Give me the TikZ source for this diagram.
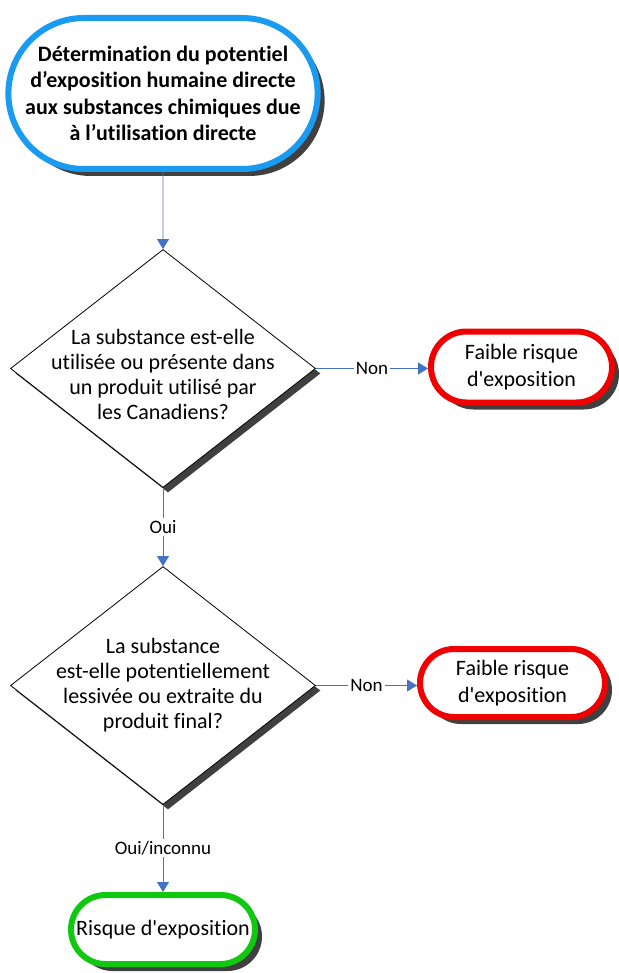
\documentclass[tikz,border=0pt]{standalone}
\usepackage{fontspec}
\setmainfont{Carlito}[Ligatures={TeXOff,NoCommon}]
\usetikzlibrary{shapes.geometric,shapes.misc,shadows,arrows.meta}
\definecolor{arrowblue}{HTML}{4472C4}
\definecolor{termblue}{HTML}{1A9BF2}
\definecolor{termred}{HTML}{F00000}
\definecolor{termgreen}{HTML}{10C810}
\definecolor{shadowgray}{HTML}{404040}
\tikzset{
  shad/.style={drop shadow={shadow xshift=7pt, shadow yshift=-7pt, fill=shadowgray, opacity=1}},
  term/.style={rounded rectangle, draw, line width=6pt, fill=white, align=center,
    inner sep=0pt, font=\fontsize{22}{27}\selectfont, shad},
  decision/.style={diamond, draw, line width=0.8pt, fill=white, inner sep=0pt,
    minimum width=305pt, minimum height=238pt,
    drop shadow={shadow xshift=5pt, shadow yshift=-5pt, fill=shadowgray, opacity=1}},
  dtext/.style={font=\fontsize{22}{25}\selectfont, align=center, inner sep=0pt},
  conn/.style={draw=arrowblue, line width=0.9pt, -{Triangle[width=12pt,length=10pt]}},
  lbl/.style={fill=white, inner sep=2pt, font=\fontsize{19}{22}\selectfont, text=black}
}
\begin{document}
\begin{tikzpicture}[x=1pt,y=-1pt]
\useasboundingbox (0,0) rectangle (618,973);
\node[term, draw=termblue, minimum width=284pt, minimum height=151pt,
  font=\bfseries\fontsize{22}{26.5}\selectfont] (top) at (163,93.5)
  {Détermination du potentiel\\d’exposition humaine directe\\aux substances chimiques due\\à l’utilisation directe};
\node[decision, label={[dtext, yshift=-6pt]center:{La substance est-elle\\utilisée ou présente dans\\un produit utilisé par\\les Canadiens?}}] (d1) at (163,368.5) {};
\node[term, draw=termred, minimum width=181pt, minimum height=71pt] (r1) at (521.5,367)
  {Faible risque\\d'exposition};
\node[decision, label={[dtext]center:{La substance\\est-elle potentiellement\\lessivée ou extraite du\\produit final?}}] (d2) at (163,685.5) {};
\node[term, draw=termred, minimum width=185pt, minimum height=68pt] (r2) at (512.5,683)
  {Faible risque\\d'exposition};
\node[term, draw=termgreen, minimum width=184pt, minimum height=69pt] (g) at (163,929.5)
  {Risque d'exposition};
\draw[conn] (top) -- (d1);
\draw[conn] (d1.east) -- node[lbl]{Non} (d1.east -| r1.west);
\draw[conn] (d1) -- node[lbl]{Oui} (d2);
\draw[conn] (d2.east) -- node[lbl]{Non} (d2.east -| r2.west);
\draw[conn] (d2) -- node[lbl]{Oui/inconnu} (g);
\end{tikzpicture}
\end{document}
